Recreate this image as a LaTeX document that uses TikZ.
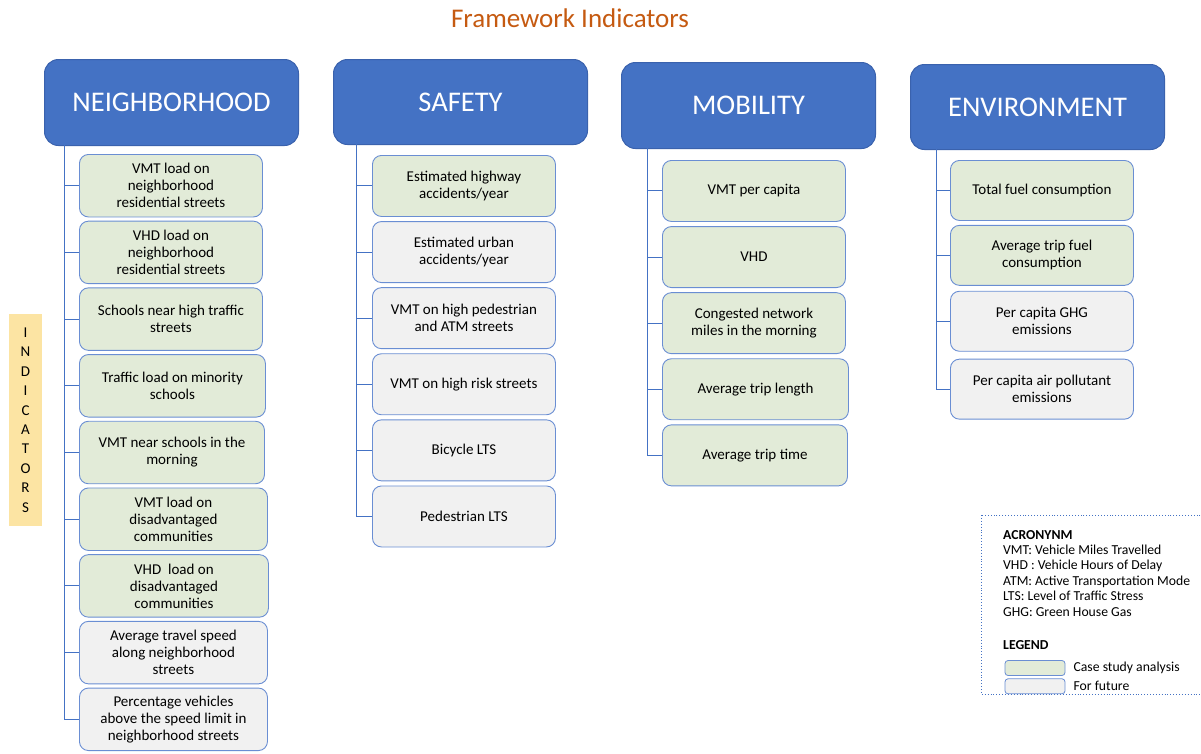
\documentclass[tikz,border=0pt]{standalone}
\usepackage{fontspec}
\setmainfont{Carlito}
\usetikzlibrary{positioning}
\definecolor{hdrblue}{HTML}{4472C4}
\definecolor{hdredge}{HTML}{3A62AD}
\definecolor{boxedge}{HTML}{6A8ED3}
\definecolor{casegreen}{HTML}{E2EBD8}
\definecolor{futuregray}{HTML}{F1F1F1}
\definecolor{titleorange}{HTML}{C55A11}
\definecolor{tagyellow}{HTML}{FCE4A3}
\tikzstyle{header} = [rectangle, draw=hdredge, fill=hdrblue, text=white, rounded corners=14pt, minimum width=254pt, minimum height=86pt, font=\fontsize{28.5}{32}\selectfont, line width=1pt]
\tikzstyle{item} = [rectangle, draw=boxedge, rounded corners=9pt, minimum width=183pt, minimum height=61pt, align=center, font=\fontsize{15}{17}\selectfont, line width=0.9pt]
\tikzstyle{case} = [item, fill=casegreen]
\tikzstyle{future} = [item, fill=futuregray]
\tikzstyle{link} = [draw=hdrblue, line width=1pt]
\tikzstyle{keybox} = [rectangle, draw=boxedge, rounded corners=3pt, minimum width=60pt, minimum height=15pt, line width=0.8pt]
\tikzstyle{keytext} = [font=\fontsize{13.7}{15.4}\selectfont, align=left, inner sep=0pt]

\begin{document}
\begin{tikzpicture}[x=1pt, y=-1pt]
    \useasboundingbox (0,0) rectangle (1201,753);

    \node[text=titleorange, font=\fontsize{27}{30}\selectfont] (title) at (570,18) {Framework Indicators};

    % headers
    \node[header, anchor=north west] (nh) at (44,59) {NEIGHBORHOOD};
    \node[header, anchor=north west, minimum height=85pt] (sf) at (333,59) {SAFETY};
    \node[header, anchor=north west] (mb) at (621,62) {MOBILITY};
    \node[header, anchor=north west, minimum height=85pt] (env) at (910,64) {ENVIRONMENT};

    \node[fill=tagyellow, minimum width=33pt, minimum height=212pt, align=center, font=\fontsize{15}{19.4}\selectfont] (tag) at (25.5,420) {I\\N\\D\\I\\C\\A\\T\\O\\R\\S};

    % neighborhood
    \coordinate (nhroot) at (64,145);
    \node[case, anchor=north west, minimum height=62.5pt] (n1) at (79,154) {VMT load on\\neighborhood\\residential streets};
    \node[case, below=3.3pt of n1.south west, anchor=north west, minimum height=62.5pt] (n2) {VHD load on\\neighborhood\\residential streets};
    \node[case, below=3.3pt of n2.south west, anchor=north west, minimum height=62.5pt] (n3) {Schools near high traffic\\streets};
    \node[case, below=3.3pt of n3.south west, anchor=north west, minimum height=62.5pt, minimum width=186pt] (n4) {Traffic load on minority\\schools};
    \node[case, below=3.3pt of n4.south west, anchor=north west, minimum height=62.5pt, minimum width=185pt] (n5) {VMT near schools in the\\morning};
    \node[case, below=3.3pt of n5.south west, anchor=north west, minimum height=62.5pt, minimum width=188pt] (n6) {VMT load on\\disadvantaged\\communities};
    \node[case, below=3.3pt of n6.south west, anchor=north west, minimum height=62.5pt, minimum width=189pt] (n7) {VHD~ load on\\disadvantaged\\communities};
    \node[future, below=3.3pt of n7.south west, anchor=north west, minimum height=62.5pt, minimum width=188pt] (n8) {Average travel speed\\along neighborhood\\streets};
    \node[future, below=3.3pt of n8.south west, anchor=north west, minimum height=62.5pt, minimum width=188pt] (n9) {Percentage vehicles\\above the speed limit in\\neighborhood streets};
    \draw[link] (nhroot) |- (n1.west) (nhroot) |- (n2.west) (nhroot) |- (n3.west)
        (nhroot) |- (n4.west) (nhroot) |- (n5.west) (nhroot) |- (n6.west)
        (nhroot) |- (n7.west) (nhroot) |- (n8.west) (nhroot) |- (n9.west);

    % safety
    \coordinate (sfroot) at (356,144);
    \node[case, anchor=north west] (s1) at (372,155) {Estimated highway\\accidents/year};
    \node[future, below=4.2pt of s1] (s2) {Estimated urban\\accidents/year};
    \node[future, below=4.2pt of s2] (s3) {VMT on high pedestrian\\and ATM streets};
    \node[future, below=4.2pt of s3] (s4) {VMT on high risk streets};
    \node[future, below=4.2pt of s4] (s5) {Bicycle LTS};
    \node[future, below=4.2pt of s5] (s6) {Pedestrian LTS};
    \draw[link] (sfroot) |- (s1.west) (sfroot) |- (s2.west) (sfroot) |- (s3.west)
        (sfroot) |- (s4.west) (sfroot) |- (s5.west) (sfroot) |- (s6.west);

    % mobility
    \coordinate (mbroot) at (647,148);
    \node[case, anchor=north west] (m1) at (662,160) {VMT per capita};
    \node[case, below=4.2pt of m1] (m2) {VHD};
    \node[case, below=4.2pt of m2] (m3) {Congested network\\miles in the morning};
    \node[case, below=4.2pt of m3.south west, anchor=north west, minimum width=186pt] (m4) {Average trip length};
    \node[case, below=4.2pt of m4.south west, anchor=north west, minimum width=185pt] (m5) {Average trip time};
    \draw[link] (mbroot) |- (m1.west) (mbroot) |- (m2.west) (mbroot) |- (m3.west)
        (mbroot) |- (m4.west) (mbroot) |- (m5.west);

    % environment
    \coordinate (envroot) at (936,149);
    \node[case, anchor=north west, minimum height=60pt] (e1) at (950,160) {Total fuel consumption};
    \node[case, below=4pt of e1, minimum height=60pt] (e2) {Average trip fuel\\consumption};
    \node[future, below=5pt of e2, minimum height=60pt] (e3) {Per capita GHG\\emissions};
    \node[future, below=7pt of e3, minimum height=60pt] (e4) {Per capita air pollutant\\emissions};
    \draw[link] (envroot) |- (e1.west) (envroot) |- (e2.west) (envroot) |- (e3.west)
        (envroot) |- (e4.west);

    % acronyms and legend
    \draw[hdrblue, dotted, line width=0.9pt] (981,515) rectangle (1206,694);
    \node[keytext, anchor=north west] (acro) at (1003,530) {\textbf{ACRONYNM}\\VMT: Vehicle Miles Travelled\\VHD : Vehicle Hours of Delay\\ATM: Active Transportation Mode\\LTS: Level of Traffic Stress\\GHG: Green House Gas};
    \node[keytext, anchor=west] (legend) at (1003,645) {\textbf{LEGEND}};
    \node[keybox, fill=casegreen] (casekey) at (1035,668) {};
    \node[keybox, fill=futuregray, below=2.5pt of casekey] (futurekey) {};
    \node[keytext, right=8pt of casekey] (casetext) {Case study analysis};
    \node[keytext, right=8pt of futurekey] (futuretext) {For future};
\end{tikzpicture}
\end{document}
